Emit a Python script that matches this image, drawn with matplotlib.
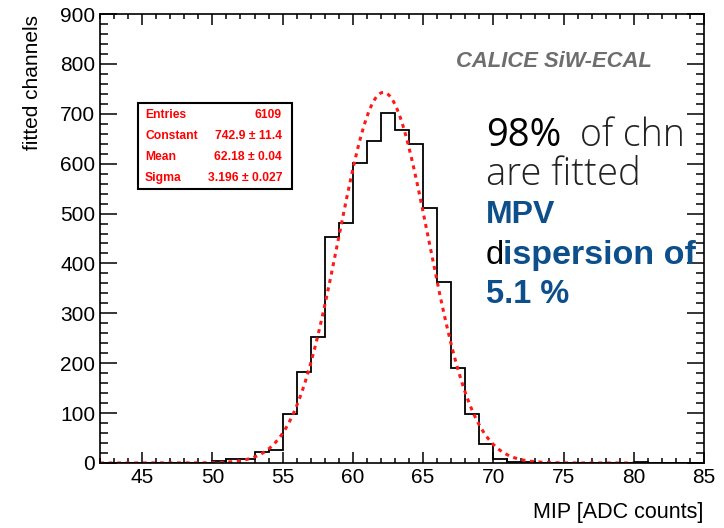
import numpy as np
import matplotlib
matplotlib.use("Agg")
import matplotlib.pyplot as plt
from matplotlib.patches import Rectangle

# ---- data ----
bin_edges = np.arange(42, 86, 1)
counts = [0, 0, 0, 0, 1, 1, 1, 1, 4, 9, 9, 22, 27,
          99, 183, 253, 454, 482, 602, 646, 702, 667, 640, 512, 362, 191, 99, 38,
          8, 3, 2, 0, 0, 0, 1, 0, 0, 0, 2, 0, 0, 0, 0]
fit_const = 742.9
fit_mean = 62.18
fit_sigma = 3.196
fit_range = (42, 80)
stats_labels = ["Entries", "Constant", "Mean", "Sigma"]
stats_values = ["6109", "742.9 \u00b1 11.4", "62.18 \u00b1 0.04", "3.196 \u00b1 0.027"]
x_ticks = [45, 50, 55, 60, 65, 70, 75, 80, 85]
y_ticks = [0, 100, 200, 300, 400, 500, 600, 700, 800, 900]

W, H = 724, 528
fig = plt.figure(figsize=(W / 100, H / 100), dpi=100)
fig.patch.set_facecolor("white")

L, R, T, B = 100, 704, 14, 463
ax = fig.add_axes([L / W, 1 - B / H, (R - L) / W, (B - T) / H])

FONT = "Liberation Sans"

ax.stairs(counts, bin_edges, color="black", lw=1.3, baseline=0)
xf = np.linspace(fit_range[0], fit_range[1], 600)
yf = fit_const * np.exp(-0.5 * ((xf - fit_mean) / fit_sigma) ** 2)
ax.plot(xf, yf, color="#ff1a1a", lw=2.2, ls=(0, (1.3, 1.5)))

ax.set_xlim(42, 85)
ax.set_ylim(0, 900)
ax.set_xticks(x_ticks)
ax.set_yticks(y_ticks)
ax.set_xticks(np.arange(42, 86, 1), minor=True)
ax.set_yticks(np.arange(0, 901, 20), minor=True)
ax.tick_params(axis="both", which="both", direction="in", top=True, right=True,
               labelsize=15, pad=3.5, width=1.1)
ax.tick_params(axis="x", which="major", length=8)
ax.tick_params(axis="x", which="minor", length=3.5)
ax.tick_params(axis="y", which="major", length=12)
ax.tick_params(axis="y", which="minor", length=6)
for lab in ax.get_xticklabels() + ax.get_yticklabels():
    lab.set_fontfamily(FONT)
for s in ax.spines.values():
    s.set_linewidth(1.2)

def px(x, y):
    return x / W, 1 - y / H

fig.text(*px(33, 15), "fitted channels", rotation=90, ha="center", va="top",
         fontsize=15, family=FONT)
fig.text(*px(703, 518), "MIP [ADC counts]", ha="right", va="baseline",
         fontsize=15.5, family=FONT)

# CALICE label
fig.text(*px(456, 67), "CALICE SiW-ECAL", ha="left", va="baseline", fontsize=15.8,
         family=FONT, weight="bold", style="italic", color="#6e6e6e")

# stats box
bx0, by0, bx1, by1 = 138, 103, 292, 189
fig.patches.append(Rectangle(px(bx0, by1), (bx1 - bx0) / W, (by1 - by0) / H,
                             transform=fig.transFigure, facecolor="white",
                             edgecolor="black", lw=1.5, zorder=5))
for i, (lab, val) in enumerate(zip(stats_labels, stats_values)):
    yb = 118 + i * 21
    fig.text(*px(145, yb), lab, ha="left", va="baseline", fontsize=8.7,
             family=FONT, weight="bold", color="#ff0000", zorder=6)
    fig.text(*px(282, yb), val, ha="right", va="baseline", fontsize=8.7,
             family=FONT, weight="bold", color="#ff0000", zorder=6)

# annotation text
BLUE = "#0d4f8b"
fig.text(*px(486, 146), "98%", ha="left", va="baseline", fontsize=27.5,
         family="Open Sans", color="black")
fig.text(*px(580, 146), "of chn", ha="left", va="baseline", fontsize=27,
         family="Open Sans", weight="light", color="#222222")
fig.text(*px(486, 185), "are fitted", ha="left", va="baseline", fontsize=27.5,
         family="Open Sans", weight="light", color="#222222")
fig.text(*px(486, 223), "MPV", ha="left", va="baseline", fontsize=23,
         family=FONT, weight="bold", color=BLUE)
fig.text(*px(486, 264), "d", ha="left", va="baseline", fontsize=23.5,
         family=FONT, color="black")
fig.text(*px(503, 264), "ispersion of", ha="left", va="baseline", fontsize=24.5,
         family=FONT, weight="bold", color=BLUE)
fig.text(*px(486, 303), "5.1 %", ha="left", va="baseline", fontsize=23.5,
         family=FONT, weight="bold", color=BLUE)

fig.savefig("out.png", dpi=100)
